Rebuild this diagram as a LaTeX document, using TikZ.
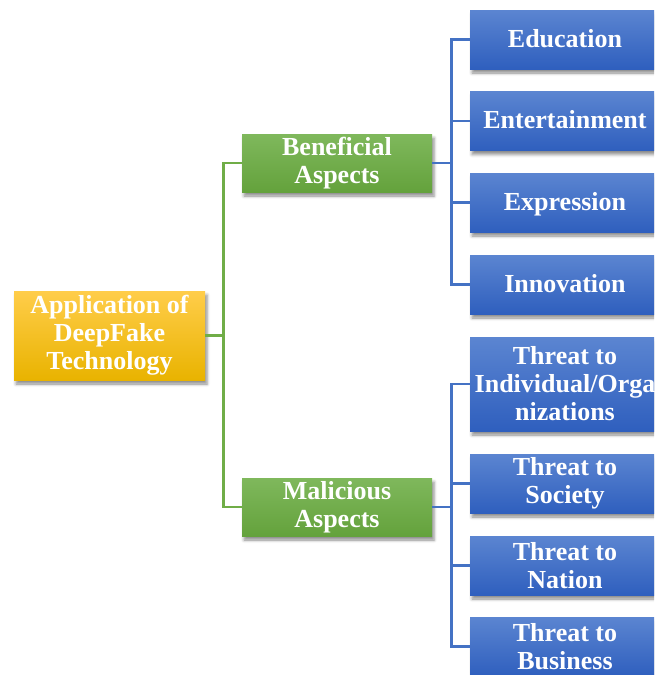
\documentclass[tikz,border=0pt]{standalone}
\usepackage{fontspec}
\setmainfont{Liberation Serif}
\usetikzlibrary{shadows.blur}
\definecolor{orgtop}{HTML}{FFCD4A}
\definecolor{orgbot}{HTML}{E9B300}
\definecolor{grntop}{HTML}{7FB85C}
\definecolor{grnbot}{HTML}{64A23C}
\definecolor{blutop}{HTML}{5B85D1}
\definecolor{blubot}{HTML}{2F5FBE}
\definecolor{grnline}{HTML}{70AD47}
\definecolor{bluline}{HTML}{4472C4}
\tikzset{
  box/.style={rectangle, inner sep=0pt, text=white, align=center,
    font=\fontsize{26}{28}\selectfont\bfseries,
    blur shadow={shadow xshift=2pt, shadow yshift=-4pt, shadow blur radius=3pt, shadow opacity=45}},
  rootbox/.style={box, top color=orgtop, bottom color=orgbot, minimum width=191pt, minimum height=89pt},
  grnbox/.style={box, top color=grntop, bottom color=grnbot, minimum width=190pt, minimum height=58pt},
  blubox/.style={box, top color=blutop, bottom color=blubot, minimum width=190pt, minimum height=59pt},
  oneline/.style={text height=20pt, text depth=5pt},
  gline/.style={draw=grnline, line width=2.8pt},
  bline/.style={draw=bluline, line width=2.8pt}
}
\begin{document}
\begin{tikzpicture}[x=1pt,y=-1pt]
\useasboundingbox (0,0) rectangle (654,675);
\clip (0,0) rectangle (654,675);
\node[rootbox] (root) at (109.5,335.5) {Application of\\DeepFake\\Technology};
\node[grnbox] (ben) at (337,163) {Beneficial\\Aspects};
\node[grnbox] (mal) at (337,507) {Malicious\\Aspects};
\node[blubox, oneline] (edu) at (565,39.5) {Education};
\node[blubox, oneline] (ent) at (565,121) {Entertainment};
\node[blubox, oneline] (exp) at (565,202.5) {Expression};
\node[blubox, oneline] (inn) at (565,284.5) {Innovation};
\node[blubox, minimum height=94pt] (ind) at (565,384) {Threat to\\Individual/Orga\\nizations};
\node[blubox] (soc) at (565,483.5) {Threat to\\Society};
\node[blubox] (nat) at (565,565.5) {Threat to\\Nation};
\node[blubox] (bus) at (565,646.5) {Threat to\\Business};
\draw[gline] (root.east) -- ++(18,0) |- (ben.west);
\draw[gline] (root.east) -- ++(18,0) |- (mal.west);
\foreach \c in {edu,ent,exp,inn}{\draw[bline] (ben.east) -- ++(19,0) |- (\c.west);}
\foreach \c in {ind,soc,nat,bus}{\draw[bline] (mal.east) -- ++(19,0) |- (\c.west);}
\end{tikzpicture}
\end{document}
